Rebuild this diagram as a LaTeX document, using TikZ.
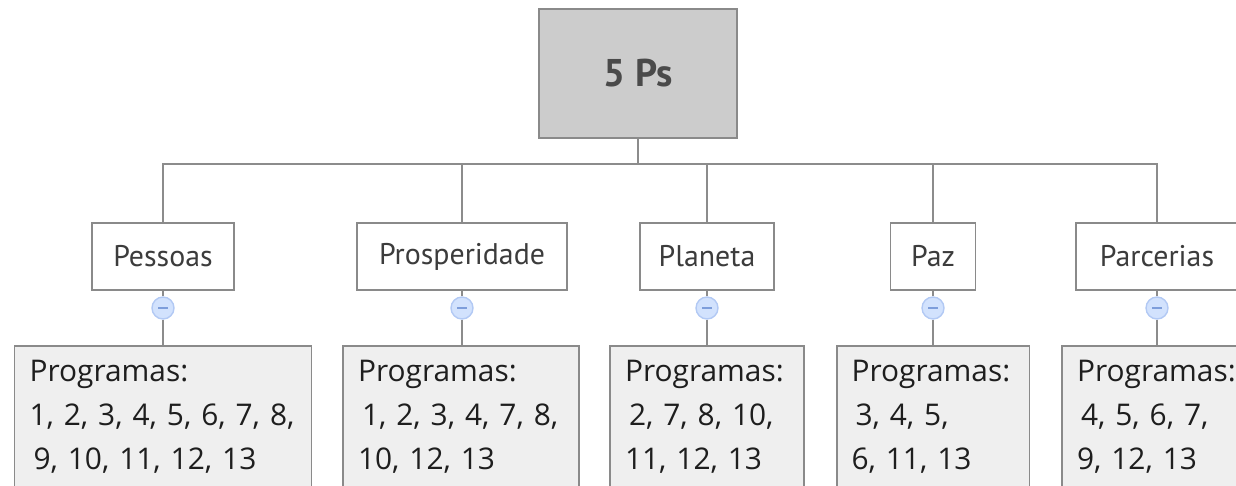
\documentclass[tikz,border=0pt]{standalone}
\usepackage{fontspec}
\setmainfont{Open Sans}
\newfontfamily\labelfont{PT Sans}
\definecolor{rootfill}{HTML}{CCCCCC}
\definecolor{boxline}{HTML}{8A8A8A}
\definecolor{linkcol}{HTML}{8C8C8C}
\definecolor{progfill}{HTML}{EFEFEF}
\definecolor{roottext}{HTML}{4A4A4A}
\definecolor{topictext}{HTML}{3C3C3C}
\definecolor{progtext}{HTML}{1E1E1E}
\definecolor{togglefill}{HTML}{D2E2FD}
\definecolor{toggleline}{HTML}{B2C9F4}
\definecolor{togglemark}{HTML}{7E9EDB}
\begin{document}
\begin{tikzpicture}[x=0.02cm,y=-0.02cm,
  rootbox/.style={rectangle,draw=boxline,fill=rootfill,line width=1.1pt,minimum width=3.96cm,minimum height=2.58cm,font=\labelfont\bfseries\fontsize{22}{26}\selectfont,text=roottext},
  topic/.style={rectangle,draw=boxline,fill=white,line width=1.1pt,minimum height=1.34cm,font=\labelfont\fontsize{17}{20}\selectfont,text=topictext},
  progbox/.style={rectangle,draw=boxline,fill=progfill,line width=1.1pt,anchor=north,align=left,inner xsep=0.3cm,inner ysep=8.3pt,font=\fontsize{17}{24.9}\selectfont,text=progtext},
  toggle/.style={circle,draw=toggleline,fill=togglefill,line width=0.8pt,minimum size=0.44cm,inner sep=0pt,
    path picture={\draw[togglemark,line width=0.8pt] ([xshift=-0.1cm]path picture bounding box.center)--([xshift=0.1cm]path picture bounding box.center);}},
  link/.style={draw=linkcol,line width=1.1pt}]
\useasboundingbox (0,0) rectangle (1236,485);
\clip (0,0) rectangle (1236,485);

\node (root) at (638,73.5)[rootbox]{5 Ps};

\node (pessoas) at (163,256.5)[topic,minimum width=2.84cm]{Pessoas};
\node (prosp) at (462,256.5)[topic,minimum width=4.2cm]{Prosperidade};
\node (planeta) at (707,256.5)[topic,minimum width=2.68cm]{Planeta};
\node (paz) at (933,256.5)[topic,minimum width=1.7cm]{Paz};
\node (parc) at (1157,256.5)[topic,minimum width=3.24cm]{Parcerias};

\node (t1) at (163,308)[toggle]{};
\node (t2) at (462,308)[toggle]{};
\node (t3) at (707,308)[toggle]{};
\node (t4) at (933,308)[toggle]{};
\node (t5) at (1157,308)[toggle]{};

\node (p1) at (163,345)[progbox,text width=5.34cm]{Programas:\\1, 2, 3, 4, 5, 6, 7, 8,\\\hspace*{0.08cm}9, 10, 11, 12, 13};
\node (p2) at (461,345)[progbox,text width=4.12cm]{Programas:\\\hspace*{0.08cm}1, 2, 3, 4, 7, 8,\\10, 12, 13};
\node (p3) at (707,345)[progbox,text width=3.28cm]{Programas:\\\hspace*{0.08cm}2, 7, 8, 10,\\11, 12, 13};
\node (p4) at (933,345)[progbox,text width=3.26cm]{Programas:\\\hspace*{0.08cm}3, 4, 5,\\6, 11, 13};
\node (p5) at (1157,345)[progbox,text width=3.2cm]{Programas:\\\hspace*{0.08cm}4, 5, 6, 7,\\9, 12, 13};

\foreach \t in {pessoas,prosp,planeta,paz,parc}
  \draw[link] (root.south)--++(0,25.5)-|(\t.north);
\draw[link] (pessoas.south)--(t1.north);
\draw[link] (t1.south)--(t1.south|-p1.north);
\draw[link] (prosp.south)--(t2.north);
\draw[link] (t2.south)--(t2.south|-p2.north);
\draw[link] (planeta.south)--(t3.north);
\draw[link] (t3.south)--(t3.south|-p3.north);
\draw[link] (paz.south)--(t4.north);
\draw[link] (t4.south)--(t4.south|-p4.north);
\draw[link] (parc.south)--(t5.north);
\draw[link] (t5.south)--(t5.south|-p5.north);
\end{tikzpicture}
\end{document}
